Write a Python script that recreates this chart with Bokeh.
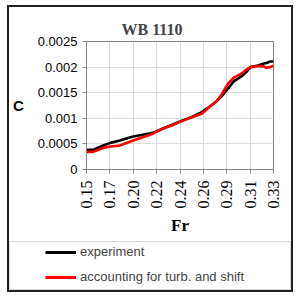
from bokeh.plotting import figure
from bokeh.models import Range1d, FixedTicker, Legend, LegendItem
from bokeh.layouts import column
from bokeh.embed import file_html
from bokeh.resources import INLINE

# ---- data ----
fr = [0.150, 0.157, 0.166, 0.173, 0.182, 0.195, 0.204, 0.214, 0.223, 0.232,
      0.240, 0.251, 0.261, 0.270, 0.275, 0.280, 0.286, 0.292, 0.299, 0.305,
      0.308, 0.315, 0.320, 0.323, 0.327, 0.330]
c_experiment = [0.000385, 0.000385, 0.00047, 0.00052, 0.000566, 0.000645, 0.00068,
                0.000716, 0.000795, 0.00087, 0.00094, 0.00102, 0.00112, 0.00125,
                0.00133, 0.001426, 0.001576, 0.001725, 0.001816, 0.00193, 0.002,
                0.00203, 0.002064, 0.00208, 0.00211, 0.00211]
c_turb_shift = [0.000345, 0.00035, 0.00042, 0.00045, 0.00047, 0.000566, 0.00063,
                0.0007, 0.000795, 0.00086, 0.00093, 0.00102, 0.00109, 0.00125,
                0.00133, 0.00146, 0.00167, 0.0018, 0.00187, 0.001967, 0.002,
                0.00202, 0.00202, 0.001986, 0.002, 0.00203]
series_names = ["experiment", "accounting for turb. and shift"]

fr_ticks = [0.15, 0.1725, 0.195, 0.2175, 0.24, 0.2625, 0.285, 0.3075, 0.33]
fr_tick_labels = ["0.15", "0.17", "0.20", "0.22", "0.24", "0.26", "0.29", "0.31", "0.33"]
c_ticks = [0, 0.0005, 0.001, 0.0015, 0.002, 0.0025]
c_tick_labels = ["0", "0.0005", "0.001", "0.0015", "0.002", "0.0025"]

SANS = "Liberation Sans"
SERIF = "Liberation Serif"
AXIS_GRAY = "#868686"
GRID_GRAY = "#d9d9d9"

# ---- main chart ----
p = figure(width=282, height=234, output_backend="svg", toolbar_location=None,
           x_range=Range1d(0.15, 0.33), y_range=Range1d(0, 0.0025),
           min_border_left=74, min_border_right=18, min_border_top=34,
           min_border_bottom=72, title="WB 1110")
p.frame_align = False
p.title.text_font = SERIF
p.title.text_font_size = "16px"
p.title.text_font_style = "bold"
p.title.align = "left"
p.title.offset = 35
p.title.standoff = 8

p.outline_line_color = AXIS_GRAY
p.background_fill_color = "white"
p.border_fill_color = "white"

p.xaxis.ticker = FixedTicker(ticks=fr_ticks)
p.xaxis.major_label_overrides = dict(zip(fr_ticks, fr_tick_labels))
p.xaxis.major_label_orientation = 1.5708
p.xaxis.major_label_text_font = SERIF
p.xaxis.major_label_text_font_size = "16px"
p.xaxis.axis_label = "Fr"
p.xaxis.axis_label_text_font = SERIF
p.xaxis.axis_label_text_font_size = "17px"
p.xaxis.axis_label_text_font_style = "bold"
p.xaxis.axis_label_standoff = 5

p.yaxis.ticker = FixedTicker(ticks=c_ticks)
p.yaxis.major_label_overrides = dict(zip(c_ticks, c_tick_labels))
p.yaxis.major_label_text_font = SANS
p.yaxis.major_label_text_font_size = "13px"
p.yaxis.axis_label = "C"
p.yaxis.axis_label_orientation = "horizontal"
p.yaxis.axis_label_text_font = SANS
p.yaxis.axis_label_text_font_size = "15px"
p.yaxis.axis_label_text_font_style = "bold"
p.yaxis.axis_label_standoff = 11

for ax in (p.xaxis, p.yaxis):
    ax.axis_line_color = AXIS_GRAY
    ax.major_tick_line_color = AXIS_GRAY
    ax.major_tick_out = 4
    ax.major_tick_in = 0
    ax.minor_tick_line_color = None
    ax.major_label_text_color = "black"
    ax.axis_label_text_color = "black"
p.yaxis.major_label_standoff = 5
p.xaxis.major_label_standoff = 7

p.xgrid.ticker = FixedTicker(ticks=fr_ticks)
p.ygrid.ticker = FixedTicker(ticks=c_ticks)
p.xgrid.grid_line_color = GRID_GRAY
p.ygrid.grid_line_color = GRID_GRAY

p.line(fr, c_experiment, line_color="black", line_width=2.6)
p.line(fr, c_turb_shift, line_color="#ff0000", line_width=2.6)

# ---- legend panel ----
lg = figure(width=282, height=49, output_backend="svg", toolbar_location=None,
            x_range=Range1d(0, 1), y_range=Range1d(10, 11),
            x_axis_location=None, y_axis_location=None,
            min_border_left=0, min_border_right=1, min_border_top=0,
            min_border_bottom=1)
lg.frame_align = False
lg.grid.visible = False
lg.outline_line_color = GRID_GRAY
r1 = lg.line(fr, c_experiment, line_color="black", line_width=3)
r2 = lg.line(fr, c_turb_shift, line_color="#ff0000", line_width=3)
legend = Legend(items=[LegendItem(label=series_names[0], renderers=[r1]),
                       LegendItem(label=series_names[1], renderers=[r2])],
                location=(36, 5), padding=0, margin=0, spacing=10,
                glyph_width=31, glyph_height=14, label_height=14,
                label_standoff=4, border_line_color=None,
                background_fill_alpha=0,
                label_text_font=SANS, label_text_font_size="13px")
lg.add_layout(legend, "center")

layout = column(p, lg, spacing=0,
                styles={"border": "2px solid #222", "margin-top": "5px",
                        "margin-left": "7px"})

open("out.html", "w").write(file_html(layout, INLINE))
